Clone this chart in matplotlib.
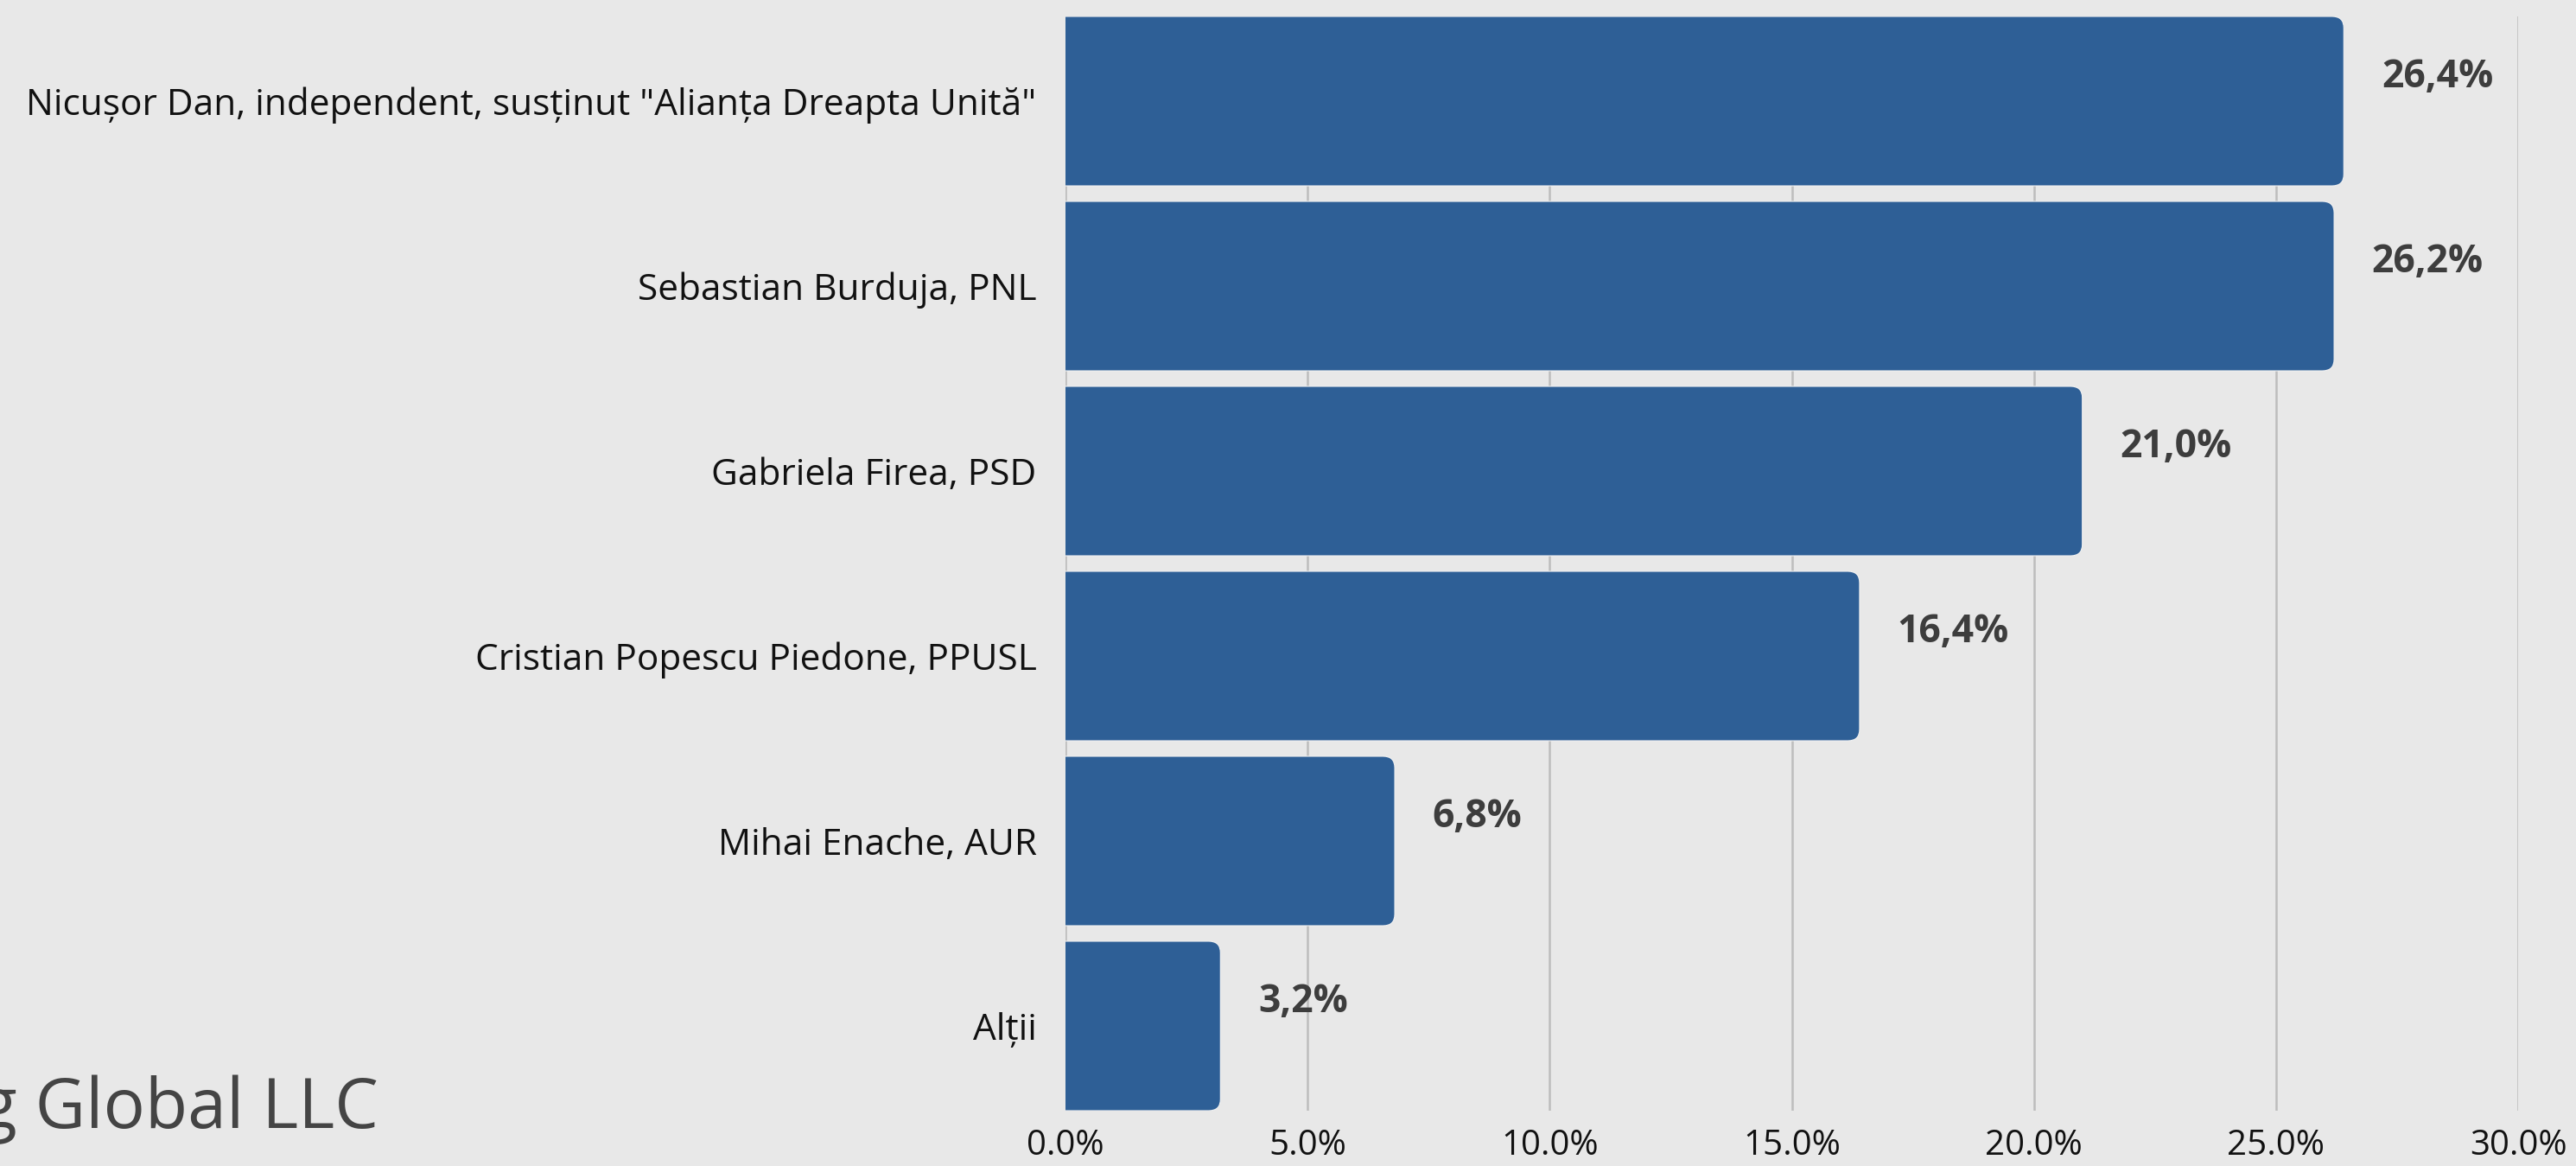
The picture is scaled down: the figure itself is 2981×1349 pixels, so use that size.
import matplotlib
matplotlib.use("Agg")
import matplotlib.pyplot as plt
from matplotlib.patches import FancyBboxPatch
from matplotlib.ticker import FuncFormatter

categories = [
    'Nicușor Dan, independent, susținut "Alianța Dreapta Unită"',
    "Sebastian Burduja, PNL",
    "Gabriela Firea, PSD",
    "Cristian Popescu Piedone, PPUSL",
    "Mihai Enache, AUR",
    "Alții",
]
values = [26.4, 26.2, 21.0, 16.4, 6.8, 3.2]
value_labels = ["26,4%", "26,2%", "21,0%", "16,4%", "6,8%", "3,2%"]
xticks = [0, 5, 10, 15, 20, 25, 30]

BG = "#e8e8e8"
BAR = "#2e5f96"
FONT = ["Open Sans", "DejaVu Sans"]

W, H = 2981, 1349
DPI = 100
fig = plt.figure(figsize=(W / DPI, H / DPI), dpi=DPI, facecolor=BG)
ax = fig.add_axes([1233 / W, 1 - 1285 / H, (2914 - 1233) / W, (1285 - 19) / H])
ax.set_facecolor(BG)

bar_h = 0.916
ax.set_xlim(0, 30)
ax.set_ylim(len(values) - 1 + bar_h / 2, -bar_h / 2)

# rounded bars (right corners rounded, left clipped at axis)
r_x = 0.24
r_y = 0.062
for i, v in enumerate(values):
    p = FancyBboxPatch((-1.0, i - bar_h / 2), v + 1.0, bar_h,
                       boxstyle=f"round,pad=0,rounding_size={r_x}",
                       mutation_aspect=r_y / r_x,
                       facecolor=BAR, edgecolor="#f2f2f2", linewidth=0.8,
                       zorder=3, clip_on=True)
    ax.add_patch(p)
    ax.text(v + 0.78, i - 0.13, value_labels[i], ha="left", va="center",
            fontsize=32, fontweight="bold", color="#3d3d3d", family=FONT,
            zorder=4)

ax.set_yticks(range(len(categories)))
ax.set_yticklabels(categories, family=FONT, fontsize=30.5, color="#111111")
ax.set_xticks(xticks)
ax.xaxis.set_major_formatter(FuncFormatter(lambda x, _: f"{x:.1f}%"))
for lab in ax.get_xticklabels():
    lab.set_family(FONT)
    lab.set_fontsize(29)
    lab.set_color("#111111")
ax.tick_params(axis="both", length=0)
ax.tick_params(axis="y", pad=24)
ax.tick_params(axis="x", pad=15)
ax.grid(axis="x", color="#bdbdbd", linewidth=1.8, zorder=0)
ax.grid(axis="y", visible=False)
for s in ax.spines.values():
    s.set_visible(False)

fig.text(-24 / W, 1 - 1305 / H, "g Global LLC", ha="left", va="baseline",
         fontsize=58, color="#444444", family=FONT)

fig.savefig("out.png", dpi=DPI, facecolor=BG)
